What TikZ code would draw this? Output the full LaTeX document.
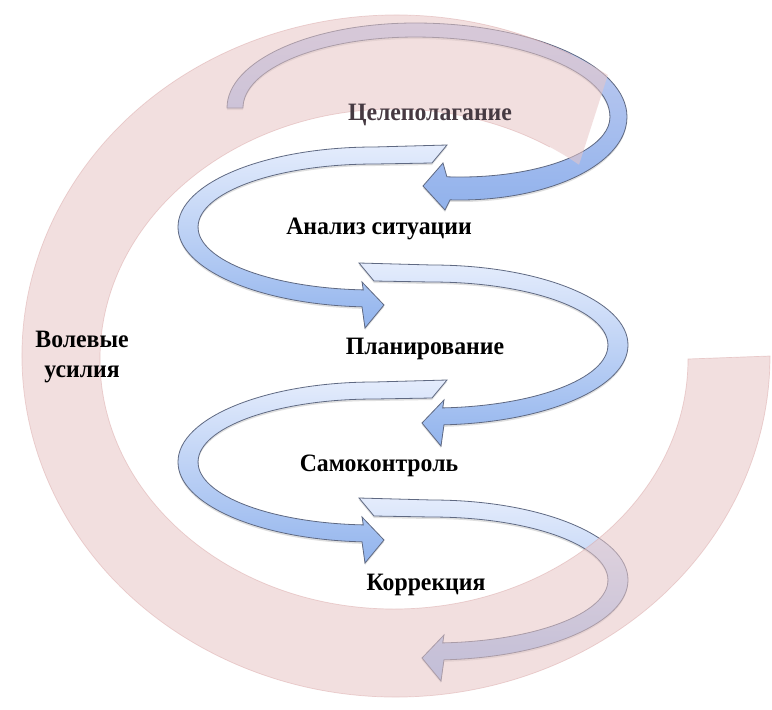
\documentclass[tikz,border=0pt]{standalone}
\usepackage{fontspec}
\usepackage{graphicx}
\setmainfont{Liberation Serif}
\usetikzlibrary{calc,shadows}
\definecolor{pinkband}{RGB}{233,198,198}
\definecolor{pinkedge}{RGB}{215,160,160}
\definecolor{arrline}{RGB}{95,105,130}
\definecolor{pA}{RGB}{228,236,252}
\definecolor{mA}{RGB}{178,201,241}
\definecolor{bA}{RGB}{146,180,237}
\definecolor{pB}{RGB}{195,205,240}
\definecolor{mB}{RGB}{168,192,238}
\definecolor{bB}{RGB}{145,178,236}
\definecolor{txtgrey}{RGB}{70,58,66}
\newcommand\loopshape{(447,145) -- (374,147) arc[start angle=270, end angle=93.5, x radius=196, y radius=80] -- (365,328) -- (384,305) -- (362,282) -- (363.3,289.9) arc[start angle=93.5, end angle=270, x radius=176, y radius=63] -- (432,163) -- cycle}
\newcommand\sq[1]{\scalebox{0.95}[1]{#1}}
\tikzset{
  arrowA/.style={draw=arrline, line width=0.8pt, top color=pA, middle color=mA, bottom color=bA,
    drop shadow={shadow xshift=0pt, shadow yshift=-2pt, opacity=0.25}},
  arrowB/.style={draw=arrline, line width=0.8pt, top color=pB, middle color=mB, bottom color=bB,
    drop shadow={shadow xshift=0pt, shadow yshift=-2pt, opacity=0.25}},
  pinkfill/.style={fill=pinkband, fill opacity=0.55},
  pinkline/.style={draw=pinkedge, draw opacity=0.45, line width=0.7pt},
  lbl/.style={font=\bfseries\fontsize{25}{30}\selectfont, inner sep=0pt, anchor=base}
}
\begin{document}
\begin{tikzpicture}[x=1pt,y=-1pt]
\useasboundingbox (0,0) rectangle (772,710);
\fill[white] (0,0) rectangle (772,710);
% arrow 1 (top, large loop)
\path[arrowB] (227,108) arc[start angle=180,end angle=270,x radius=188,y radius=85]
  arc[start angle=270,end angle=360,x radius=212,y radius=94]
  arc[start angle=0,end angle=93.4,x radius=167,y radius=83]
  -- (445,210) -- (423,186) -- (443,163) -- (446.9,176.8)
  arc[start angle=95,end angle=0,x radius=150,y radius=60]
  arc[start angle=360,end angle=270,x radius=195,y radius=80]
  arc[start angle=270,end angle=180,x radius=172,y radius=71] -- cycle;
% arrow 2
\path[arrowA] \loopshape;
% arrow 3 (mirror)
\begin{scope}[shift={(806,118)},xscale=-1]
\path[arrowA] \loopshape;
\end{scope}
% arrow 4
\begin{scope}[shift={(0,235)}]
\path[arrowA] \loopshape;
\end{scope}
% arrow 5
\begin{scope}[shift={(806,353)},xscale=-1]
\path[arrowA] \loopshape;
\end{scope}
% pink band (on top, translucent)
\path[pinkfill] ($(396,356)+(-55.5:374 and 341)$) arc[start angle=-55.5,end angle=-360,x radius=374,y radius=341]
  -- ($(394,359)+(0:294 and 250)$) arc[start angle=-360,end angle=-51,x radius=294,y radius=250] -- cycle;
\draw[pinkline] ($(396,356)+(-62:374 and 341)$) arc[start angle=-62,end angle=-360,x radius=374,y radius=341]
  -- ($(394,359)+(0:294 and 250)$) arc[start angle=-360,end angle=-58,x radius=294,y radius=250];
% labels
\node[lbl, text=txtgrey] (goal) at (430,120) {\sq{Целеполагание}};
\node[lbl] (anal) at (379,234) {\sq{Анализ ситуации}};
\node[lbl] (plan) at (425,354) {\sq{Планирование}};
\node[lbl] (self) at (379,471) {\sq{Самоконтроль}};
\node[lbl] (corr) at (426,590) {\sq{Коррекция}};
\node[lbl, align=center] (will) at (82,377) {\sq{Волевые}\\\sq{усилия}};
\end{tikzpicture}
\end{document}
